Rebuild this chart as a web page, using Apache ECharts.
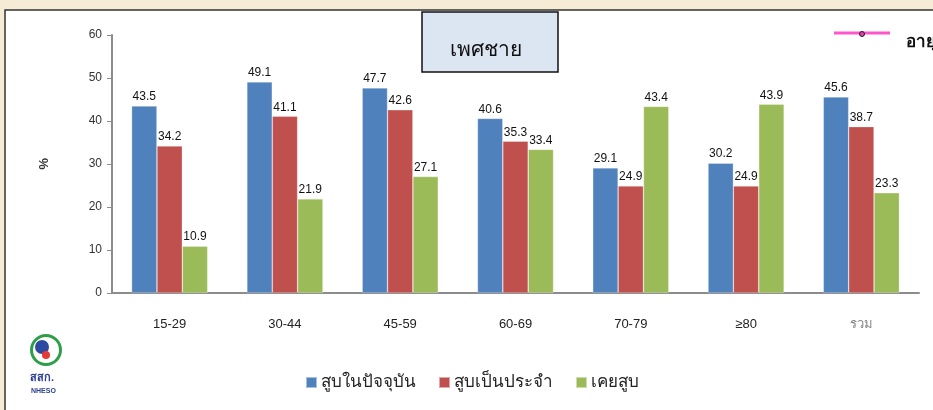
<!DOCTYPE html>
<html>
<head>
  <meta charset="utf-8">
  <title>เพศชาย</title>
  <script src="https://cdn.jsdelivr.net/npm/echarts@6/dist/echarts.min.js"></script>
  <style>
    html, body { margin: 0; padding: 0; background: #f6ecd6; }
    #chart { width: 933px; height: 410px; }
  </style>
</head>
<body>
<div id="chart"></div>
<script>
  // ข้อมูล
  var ageGroups = ['15-29', '30-44', '45-59', '60-69', '70-79', '≥80', 'รวม'];
  var seriesNames = ['สูบในปัจจุบัน', 'สูบเป็นประจำ', 'เคยสูบ'];
  var currentSmoker = [43.5, 49.1, 47.7, 40.6, 29.1, 30.2, 45.6];
  var regularSmoker = [34.2, 41.1, 42.6, 35.3, 24.9, 24.9, 38.7];
  var formerSmoker = [10.9, 21.9, 27.1, 33.4, 43.4, 43.9, 23.3];
  var yTicks = [0, 10, 20, 30, 40, 50, 60];

  var colors = ['#4f81bd', '#c0504d', '#9bbb59'];
  var labelFont = '"Liberation Sans Narrow", "Liberation Sans", Arial, sans-serif';

  var chart = echarts.init(document.getElementById('chart'));

  function barSeries(name, data) {
    return {
      name: name,
      type: 'bar',
      data: data,
      barGap: '0%',
      barCategoryGap: '34%',
      itemStyle: { borderColor: 'rgba(255,255,255,0.5)', borderWidth: 0.6 },
      label: {
        show: true,
        position: 'top',
        distance: 3,
        color: '#111',
        fontSize: 12,
        fontFamily: labelFont
      }
    };
  }

  chart.setOption({
    backgroundColor: '#f6ecd6',
    color: colors,
    animation: false,
    grid: { left: 112, right: 14, top: 35, bottom: 117 },
    legend: {
      bottom: 14,
      left: 300,
      itemWidth: 11,
      itemHeight: 11,
      itemGap: 22,
      icon: 'rect',
      data: seriesNames,
      textStyle: { fontSize: 17, color: '#222', fontFamily: '"Noto Sans", sans-serif', padding: [0, 0, 0, -1] }
    },
    graphic: [
      // panel
      { type: 'rect', z: -10, shape: { x: 5, y: 10, width: 940, height: 410 },
        style: { fill: '#ffffff', stroke: '#333', lineWidth: 1.5 } },
      // title box
      { type: 'rect', shape: { x: 422, y: 12, width: 136, height: 60 },
        style: { fill: '#dce6f2', stroke: '#111', lineWidth: 1.5 } },
      { type: 'text', style: { text: 'เพศชาย', x: 486, y: 50, fill: '#111',
        font: '21px "Noto Sans", sans-serif', textAlign: 'center', textVerticalAlign: 'middle' } },
      // top-right legend fragment
      { type: 'line', shape: { x1: 834, y1: 33, x2: 890, y2: 33 },
        style: { stroke: '#ff55cc', lineWidth: 3 } },
      { type: 'circle', shape: { cx: 862, cy: 34, r: 2.5 },
        style: { fill: '#e040b0', stroke: '#222', lineWidth: 1 } },
      { type: 'text', style: { text: 'อายุ', x: 906, y: 42, fill: '#111',
        font: 'bold 17px "Noto Sans", sans-serif', textVerticalAlign: 'middle' } },
      // y axis title
      { type: 'text', x: 49, y: 158, rotation: -Math.PI / 2, style: { text: '%', x: 0, y: 0, fill: '#333',
        font: 'bold 13px "Liberation Sans", sans-serif' } },
      // logo approximation
      { type: 'ring', shape: { cx: 46, cy: 350, r: 16, r0: 13 }, style: { fill: '#2e9e4a' } },
      { type: 'circle', shape: { cx: 42, cy: 347, r: 7 }, style: { fill: '#2b4aa0' } },
      { type: 'circle', shape: { cx: 46, cy: 355, r: 4 }, style: { fill: '#e53935' } },
      { type: 'text', style: { text: 'สสก.', x: 30, y: 372, fill: '#2b3f8f',
        font: 'bold 11px "Noto Sans", sans-serif' } },
      { type: 'text', style: { text: 'NHESO', x: 31, y: 388, fill: '#2b3f8f',
        font: 'bold 7px "Liberation Sans", sans-serif' } }
    ],
    xAxis: {
      type: 'category',
      data: ageGroups,
      axisLine: { lineStyle: { color: '#8c8c8c', width: 2 } },
      axisTick: { show: false },
      axisLabel: {
        margin: 25,
        fontSize: 13,
        fontFamily: labelFont,
        color: function (v) { return v === 'รวม' ? '#888' : '#222'; }
      }
    },
    yAxis: {
      type: 'value',
      min: yTicks[0],
      max: yTicks[yTicks.length - 1],
      interval: 10,
      splitLine: { show: false },
      axisLine: { show: true, lineStyle: { color: '#8c8c8c', width: 2 } },
      axisTick: { show: true, inside: false, length: 5, lineStyle: { color: '#8c8c8c' } },
      axisLabel: { margin: 10, fontSize: 12, color: '#333', fontFamily: labelFont }
    },
    series: [
      barSeries(seriesNames[0], currentSmoker),
      barSeries(seriesNames[1], regularSmoker),
      barSeries(seriesNames[2], formerSmoker)
    ]
  });
</script>
</body>
</html>
